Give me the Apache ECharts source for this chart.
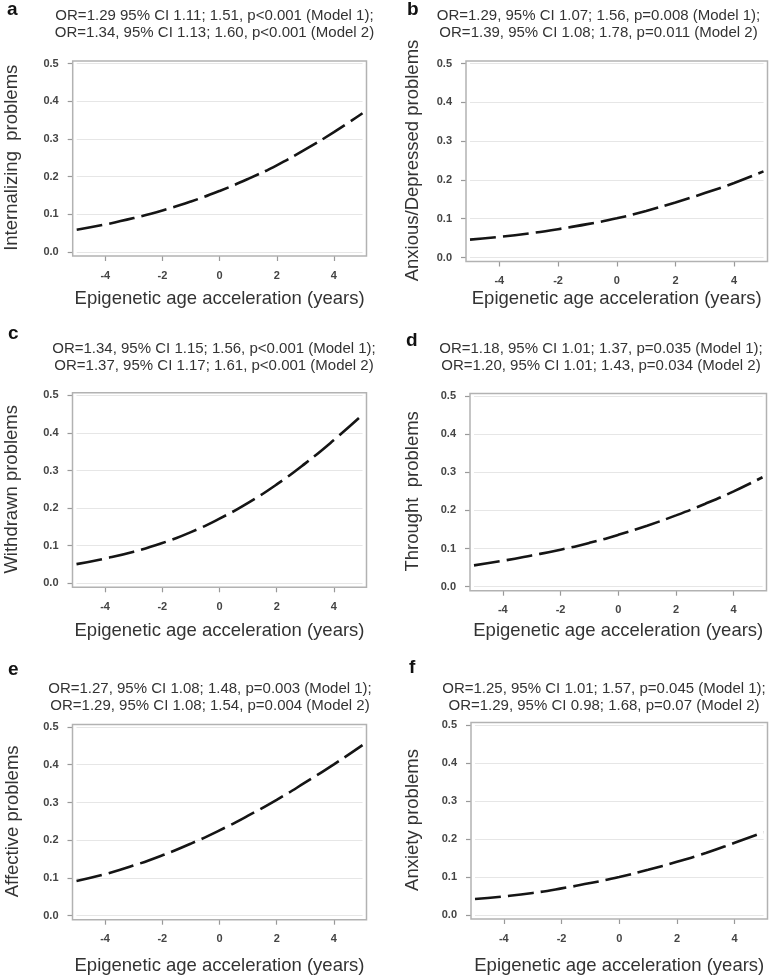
<!DOCTYPE html>
<html>
<head>
<meta charset="utf-8">
<script src="https://cdn.jsdelivr.net/npm/echarts@6/dist/echarts.min.js"></script>
<style>
  html, body { margin: 0; padding: 0; background: #fff; }
  #main { width: 778px; height: 979px; }
</style>
</head>
<body>
<div id="main"></div>
<script>
var fontFamily = '"Liberation Sans", Arial, sans-serif'

// x grid of the fitted curves and the labelled ticks
var ageAccel = [-5, -4, -3, -2, -1, 0, 1, 2, 3, 4, 5]
var xTicks = [-4, -2, 0, 2, 4]

// predicted probability
var internalizing = [0.059, 0.073, 0.090, 0.110, 0.134, 0.162, 0.194, 0.230, 0.272, 0.318, 0.368]
var anxiousDepressed = [0.046, 0.053, 0.062, 0.073, 0.086, 0.101, 0.120, 0.142, 0.166, 0.192, 0.222]
var withdrawn = [0.051, 0.066, 0.084, 0.107, 0.136, 0.172, 0.214, 0.263, 0.319, 0.381, 0.448]
var thought = [0.056, 0.068, 0.082, 0.097, 0.115, 0.136, 0.160, 0.187, 0.217, 0.250, 0.287]
var affective = [0.092, 0.110, 0.133, 0.160, 0.191, 0.226, 0.265, 0.307, 0.353, 0.401, 0.452]
var anxiety = [0.042, 0.049, 0.058, 0.070, 0.084, 0.100, 0.119, 0.140, 0.163, 0.190, 0.218]

var letters = ['a', 'b', 'c', 'd', 'e', 'f']
var yNames = ['Internalizing  problems', 'Anxious/Depressed problems', 'Withdrawn problems', 'Throught  problems', 'Affective problems', 'Anxiety problems']
var xName = 'Epigenetic age acceleration (years)'
var model1 = [
  'OR=1.29 95% CI 1.11; 1.51, p<0.001 (Model 1);',
  'OR=1.29, 95% CI 1.07; 1.56, p=0.008 (Model 1);',
  'OR=1.34, 95% CI 1.15; 1.56, p<0.001 (Model 1);',
  'OR=1.18, 95% CI 1.01; 1.37, p=0.035 (Model 1);',
  'OR=1.27, 95% CI 1.08; 1.48, p=0.003 (Model 1);',
  'OR=1.25, 95% CI 1.01; 1.57, p=0.045 (Model 1);'
]
var model2 = [
  'OR=1.34, 95% CI 1.13; 1.60, p<0.001 (Model 2)',
  'OR=1.39, 95% CI 1.08; 1.78, p=0.011 (Model 2)',
  'OR=1.37, 95% CI 1.17; 1.61, p<0.001 (Model 2)',
  'OR=1.20, 95% CI 1.01; 1.43, p=0.034 (Model 2)',
  'OR=1.29, 95% CI 1.08; 1.54, p=0.004 (Model 2)',
  'OR=1.29, 95% CI 0.98; 1.68, p=0.07 (Model 2)'
]
var curves = [internalizing, anxiousDepressed, withdrawn, thought, affective, anxiety]

// panel layout (grid = the -5..5 x 0..0.5 area), titleY = centre of first title line
var panels = [
  { left: 76.7, top: 63.5, width: 285.8, height: 188.5, titleX: 214.5, titleY: 16, letterX: 7, letterY: 10, yGap: 51, xGap: 33 },
  { left: 470, top: 63.5, width: 293.5, height: 194, titleX: 598.5, titleY: 16, letterX: 407, letterY: 10, yGap: 44, xGap: 28 },
  { left: 76.5, top: 395.3, width: 286, height: 188, titleX: 214, titleY: 349, letterX: 8, letterY: 334, yGap: 51, xGap: 34 },
  { left: 474, top: 396, width: 288.5, height: 190.7, titleX: 601, titleY: 349, letterX: 406, letterY: 341, yGap: 48, xGap: 31 },
  { left: 76.5, top: 727, width: 286, height: 188.7, titleX: 210, titleY: 689, letterX: 8, letterY: 670, yGap: 50, xGap: 37 },
  { left: 475, top: 725, width: 288.5, height: 190, titleX: 604, titleY: 689, letterX: 409, letterY: 668, yGap: 49, xGap: 37 }
]

var grids = []
var xAxes = []
var yAxes = []
var series = []
var titles = []
var frames = []

panels.forEach(function (p, i) {
  grids.push({ left: p.left, top: p.top, width: p.width, height: p.height })

  xAxes.push({
    gridIndex: i,
    type: 'value',
    min: -5,
    max: 5,
    offset: 4,
    name: xName,
    nameLocation: 'middle',
    nameGap: p.xGap,
    nameTextStyle: { fontSize: 18.5, color: '#333', fontFamily: fontFamily },
    axisLine: { show: false, onZero: false },
    axisTick: { show: true, length: 5, customValues: xTicks, lineStyle: { color: '#999', width: 1.2 } },
    axisLabel: { customValues: xTicks, margin: 14, fontSize: 11, fontWeight: 'bold', color: '#444', fontFamily: fontFamily },
    splitLine: { show: false }
  })

  yAxes.push({
    gridIndex: i,
    type: 'value',
    min: 0,
    max: 0.5,
    interval: 0.1,
    offset: 4,
    name: yNames[i],
    nameLocation: 'middle',
    nameGap: p.yGap,
    nameTextStyle: { fontSize: 18.5, color: '#333', fontFamily: fontFamily },
    axisLine: { show: false, onZero: false },
    axisTick: { show: true, length: 5, lineStyle: { color: '#999', width: 1.2 } },
    axisLabel: {
      margin: 14,
      fontSize: 11,
      fontWeight: 'bold',
      color: '#444',
      fontFamily: fontFamily,
      formatter: function (v) { return v.toFixed(1) }
    },
    splitLine: { show: true, lineStyle: { color: '#e6e6e6', width: 1.2 } }
  })

  series.push({
    type: 'line',
    xAxisIndex: i,
    yAxisIndex: i,
    data: ageAccel.map(function (x, j) { return [x, curves[i][j]] }),
    smooth: true,
    symbol: 'none',
    lineStyle: { color: '#151515', width: 2.6, type: [26, 7], cap: 'butt' },
    silent: true
  })

  titles.push({
    text: model1[i] + '\n' + model2[i],
    left: p.titleX,
    top: p.titleY - 8.5,
    textAlign: 'center',
    padding: 0,
    textStyle: { fontSize: 15, lineHeight: 17, fontWeight: 'normal', color: '#333', fontFamily: fontFamily }
  })
  titles.push({
    text: letters[i],
    left: p.letterX,
    top: p.letterY - 10,
    padding: 0,
    textStyle: { fontSize: 19, lineHeight: 19, fontWeight: 'bold', color: '#111', fontFamily: fontFamily }
  })

  // gray frame around the plot area
  frames.push({
    type: 'rect',
    silent: true,
    z: 10,
    shape: { x: p.left - 4, y: p.top - 2.5, width: p.width + 8, height: p.height + 6.5 },
    style: { fill: 'none', stroke: '#b2b2b2', lineWidth: 1.5 }
  })
})

var chart = echarts.init(document.getElementById('main'))
chart.setOption({
  animation: false,
  backgroundColor: '#fff',
  title: titles,
  grid: grids,
  xAxis: xAxes,
  yAxis: yAxes,
  series: series,
  graphic: frames
})
</script>
</body>
</html>
